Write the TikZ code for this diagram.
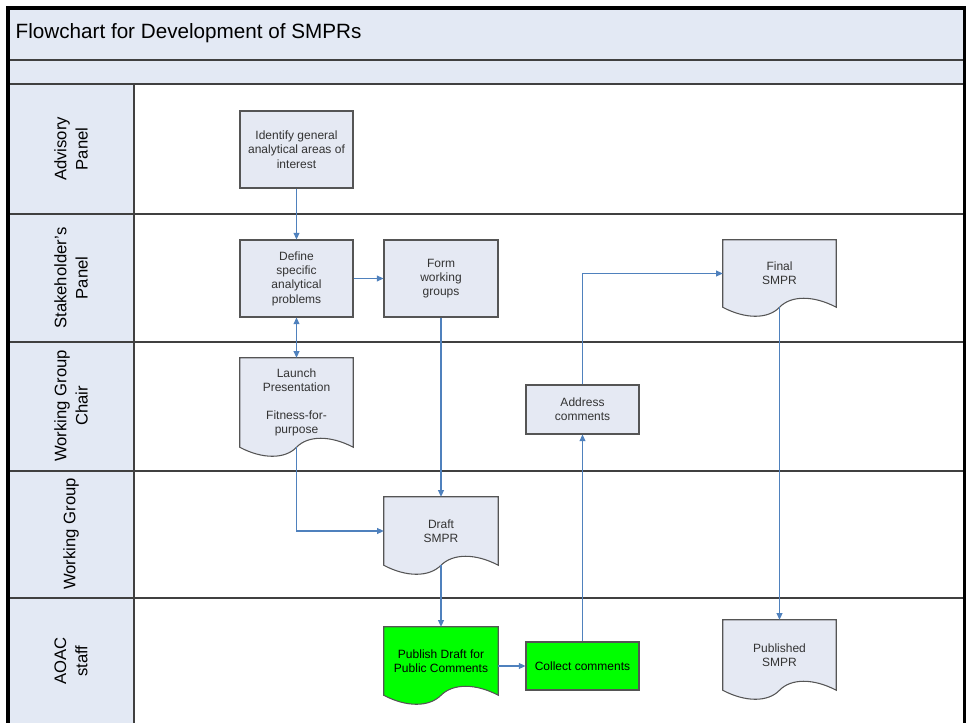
\documentclass[tikz,border=0pt]{standalone}
\usepackage{fontspec}
\setmainfont{Liberation Sans}
\usepackage{tikz}
\usetikzlibrary{arrows.meta, positioning, backgrounds}

\definecolor{headfill}{HTML}{E3E9F4}
\definecolor{boxfill}{HTML}{E5E9F3}
\definecolor{boxline}{HTML}{555555}
\definecolor{flowblue}{HTML}{4F81BD}
\definecolor{pubgreen}{HTML}{00FF00}
\definecolor{lanegrey}{HTML}{404040}
\definecolor{boxtext}{HTML}{333333}

% document outline with wavy bottom, drawn behind a named node
\newcommand{\docwave}[2]{%
  \filldraw[draw=boxline, line width=0.8pt, fill=#2] (#1.north west) -- (#1.north east) -- (#1.south east)
    .. controls ([xshift=-17pt,yshift=9pt]#1.south east) and ([xshift=-34pt,yshift=9pt]#1.south east) .. (#1.south)
    .. controls ([xshift=34pt,yshift=-9pt]#1.south west) and ([xshift=17pt,yshift=-9pt]#1.south west) .. (#1.south west) -- cycle;}

\begin{document}
\begin{tikzpicture}[x=0.75pt, y=-0.75pt,
    procbox/.style={rectangle, draw=boxline, fill=boxfill, line width=0.8pt, text=boxtext,
      font=\fontsize{9}{10.7}\selectfont, align=center, minimum width=84.75pt, minimum height=57.75pt, inner sep=2pt},
    docbox/.style={rectangle, text=boxtext, font=\fontsize{9}{10.7}\selectfont, align=center,
      minimum width=84.75pt, inner sep=2pt},
    lanelabel/.style={rotate=90, align=center, font=\fontsize{12.5}{16}\selectfont},
    laneline/.style={lanegrey, line width=1.1pt},
    flow/.style={flowblue, line width=0.8pt, -{Triangle[length=5pt,width=4.5pt]}}]

    \useasboundingbox (0,0) rectangle (969,723);

    % Draw title band and lane header column
    \fill[headfill] (8,8) rectangle (964,84);
    \fill[headfill] (8,84) rectangle (134,723);
    \node[anchor=base west, font=\fontsize{15.5}{18}\selectfont] (title) at (11,39) {Flowchart for Development of SMPRs};

    % Draw lane borders
    \foreach \y in {60,84,214,342,471,598}
        \draw[laneline] (8,\y) -- (964,\y);
    \draw[laneline] (134,84) -- (134,723);
    \draw[line width=2.6pt, line cap=rect] (8,730) -- (8,8) -- (964.5,8) -- (964.5,730);

    % Add lane labels
    \node[lanelabel] (advisory) at (71,149) {Advisory\\Panel};
    \node[lanelabel] (stake) at (71,278) {Stakeholder's\\Panel};
    \node[lanelabel] (chair) at (71,406) {Working Group\\Chair};
    \node[lanelabel] (group) at (71,534) {Working Group};
    \node[lanelabel] (aoac) at (71,661) {AOAC\\staff};

    % Draw process boxes
    \node[procbox] (identify) at (296.5,149.5) {Identify general\\analytical areas of\\interest};
    \node[procbox] (define) at (296.5,278.5) {Define\\specific\\analytical\\problems};
    \node[procbox, minimum width=85.5pt] (form) at (441,278.5) {Form\\working\\groups};
    \node[procbox, minimum height=36.75pt] (address) at (582.5,409.5) {Address\\comments};
    \node[procbox, minimum height=36pt, fill=pubgreen, text=black] (collect) at (582.5,666) {Collect comments};

    % Draw documents
    \node[docbox, minimum height=66.75pt] (launch) at (296.5,402.5) {Launch\\Presentation\\[10pt]Fitness-for-\\purpose};
    \node[docbox, minimum width=85.5pt, minimum height=51pt] (draft) at (441,531) {Draft\\SMPR};
    \node[docbox, minimum width=85.5pt, minimum height=51pt, text=black] (publish) at (441,661) {Publish Draft for\\Public Comments};
    \node[docbox, minimum height=50.25pt] (final) at (779.5,273.5) {Final\\SMPR};
    \node[docbox, minimum height=52.5pt] (published) at (779.5,655) {Published\\SMPR};
    \begin{scope}[on background layer]
        \docwave{launch}{boxfill}
        \docwave{draft}{boxfill}
        \docwave{publish}{pubgreen}
        \docwave{final}{boxfill}
        \docwave{published}{boxfill}
    \end{scope}

    % Draw connectors
    \draw[flow] (identify) -- (define);
    \draw[flow] (define) -- (form);
    \draw[flow, {Triangle[length=5pt,width=4.5pt]}-{Triangle[length=5pt,width=4.5pt]}] (define) -- (launch);
    \draw[flow] (launch.south) |- (draft.west);
    \draw[flow] (form) -- (draft);
    \draw[flow] (draft.south) -- (publish.north);
    \draw[flow] (publish.east |- collect.west) -- (collect.west);
    \draw[flow] (collect) -- (address);
    \draw[flow] (address.north) |- (final.west);
    \draw[flow] (final.south) -- (published.north);

\end{tikzpicture}
\end{document}
